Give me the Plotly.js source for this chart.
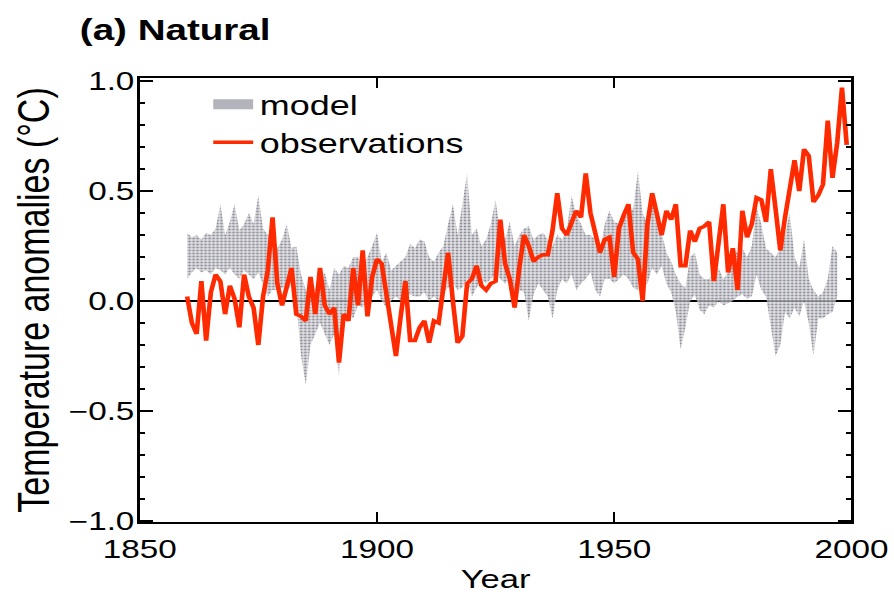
<!DOCTYPE html>
<html>
<head>
<meta charset="utf-8">
<script src="https://cdn.plot.ly/plotly-3.0.1.min.js"></script>
<style>
  html, body { margin: 0; padding: 0; background: #ffffff; overflow: hidden; }
  #wrap { width: 894px; height: 604px; overflow: hidden; }
  #chart { width: 672px; height: 604px; transform: scaleX(1.3304); transform-origin: 0 0; }
</style>
</head>
<body>
<div id="wrap"><div id="chart"></div></div>
<script>
// ---- data ----
const obsStartYear = 1860;
const observations = [
  0.02,-0.10,-0.15, 0.09,-0.18, 0.04, 0.12, 0.09,-0.06, 0.07,   // 1860s
  0.01,-0.12, 0.12, 0.02,-0.03,-0.20, 0.02, 0.14, 0.38, 0.08,   // 1870s
 -0.02, 0.07, 0.15,-0.06,-0.07,-0.09, 0.11,-0.06, 0.15,-0.02,   // 1880s
 -0.06,-0.03,-0.28,-0.06,-0.09, 0.15,-0.02, 0.23,-0.07, 0.11,   // 1890s
  0.19, 0.17, 0.02,-0.10,-0.25,-0.07, 0.09,-0.18,-0.18,-0.12,   // 1900s
 -0.09,-0.19,-0.09,-0.10, 0.08, 0.22, 0.00,-0.19,-0.16, 0.08,   // 1910s
  0.10, 0.16, 0.07, 0.05, 0.08, 0.09, 0.37, 0.17, 0.10,-0.03,   // 1920s
  0.15, 0.30, 0.25, 0.18, 0.20, 0.21, 0.21, 0.32, 0.49, 0.33,   // 1930s
  0.30, 0.36, 0.41, 0.38, 0.58, 0.40, 0.30, 0.22, 0.28, 0.29,   // 1940s
  0.11, 0.33, 0.39, 0.44, 0.22, 0.19, 0.00, 0.35, 0.49, 0.40,   // 1950s
  0.30, 0.41, 0.37, 0.44, 0.16, 0.16, 0.32, 0.27, 0.33, 0.34,   // 1960s
  0.36, 0.09, 0.27, 0.44, 0.13, 0.24, 0.05, 0.41, 0.29, 0.35,   // 1970s
  0.47, 0.46, 0.36, 0.60, 0.42, 0.23, 0.38, 0.52, 0.64, 0.50,   // 1980s
  0.69, 0.66, 0.45, 0.48, 0.53, 0.82, 0.56, 0.72, 0.97, 0.71    // 1990s
];

const modelStartYear = 1860;
const modelUpper = [
  0.31,0.29,0.30,0.28,0.31,0.30,0.33,0.44,0.30,0.36,
  0.44,0.32,0.35,0.40,0.35,0.48,0.33,0.30,0.30,0.24,
  0.28,0.35,0.24,0.25,0.12,0.05,0.02,0.06,0.10,0.13,
  0.05,0.15,0.12,0.16,0.15,0.20,0.20,0.16,0.20,0.25,
  0.31,0.18,0.22,0.14,0.16,0.18,0.20,0.26,0.24,0.28,
  0.27,0.20,0.18,0.22,0.25,0.35,0.44,0.30,0.45,0.58,
  0.30,0.33,0.25,0.28,0.35,0.46,0.30,0.28,0.36,0.25,
  0.30,0.33,0.34,0.28,0.30,0.31,0.28,0.25,0.30,0.28,
  0.32,0.48,0.39,0.35,0.30,0.30,0.28,0.22,0.35,0.41,
  0.36,0.35,0.38,0.40,0.42,0.59,0.40,0.35,0.50,0.40,
  0.31,0.22,0.18,0.12,0.08,0.06,0.20,0.22,0.12,0.10,
  0.10,0.14,0.15,0.10,0.13,0.24,0.22,0.24,0.20,0.25,
  0.43,0.35,0.24,0.22,0.20,0.24,0.30,0.40,0.20,0.15,
  0.28,0.10,0.05,0.02,0.04,0.10,0.25,0.22
];
const modelLower = [
  0.10,0.13,0.15,0.13,0.14,0.12,0.15,0.14,0.12,0.15,
  0.12,0.10,0.14,0.12,0.10,0.13,0.08,0.02,0.05,0.05,
  0.06,0.04,0.08,0.00,-0.25,-0.38,-0.20,-0.15,-0.10,-0.15,
  -0.20,-0.15,-0.34,-0.10,-0.05,-0.08,-0.02,-0.03,0.00,0.02,
  0.05,0.00,-0.03,0.00,0.02,0.00,0.02,0.03,0.02,0.02,
  0.04,0.00,0.02,0.00,0.04,0.06,0.08,0.05,0.06,0.10,
  0.02,0.06,0.10,0.08,0.10,0.12,0.10,0.08,0.10,-0.05,
  0.05,0.04,-0.09,0.03,0.08,0.05,0.02,-0.08,0.05,0.10,
  0.08,0.12,0.05,0.08,0.10,0.13,0.05,0.02,0.10,0.10,
  0.08,0.10,0.12,0.10,0.06,0.05,0.07,0.08,0.15,0.12,
  0.16,0.08,0.04,-0.05,-0.22,-0.12,0.00,0.03,-0.04,-0.06,
  -0.02,-0.03,0.00,-0.02,-0.01,0.00,0.02,0.03,0.01,0.02,
  0.12,0.05,0.02,-0.12,-0.25,-0.20,-0.05,-0.08,-0.03,-0.07,
  0.00,-0.10,-0.25,-0.08,-0.08,-0.06,-0.05,0.02
];

const xTickVals = [1850, 1900, 1950, 2000];
const xTickText = ['1850', '1900', '1950', '2000'];
const yTickVals = [-1.0, -0.5, 0.0, 0.5, 1.0];
const yTickText = ['\u22121.0', '\u22120.5', '0.0', '0.5', '1.0'];

// ---- build ----
const obsYears = observations.map((_, i) => obsStartYear + i);
const modelYears = modelUpper.map((_, i) => modelStartYear + i);

const FONT = 'Liberation Sans, Arial, Helvetica, sans-serif';
const RED = '#ff2a00';
const Y_RANGE = [-1.005, 1.014];

const traces = [
  {
    x: modelYears, y: modelLower, type: 'scatter', mode: 'lines',
    line: { width: 0, color: 'rgba(0,0,0,0)' }, showlegend: false, hoverinfo: 'skip'
  },
  {
    x: modelYears, y: modelUpper, type: 'scatter', mode: 'lines',
    line: { width: 0, color: 'rgba(0,0,0,0)' }, fill: 'tonexty',
    fillcolor: 'rgba(200,200,208,0.7)',
    fillpattern: { shape: '.', fgcolor: '#6c6c78', fgopacity: 0.7, bgcolor: 'rgba(212,212,220,0.72)', size: 3, solidity: 0.4 },
    showlegend: false, hoverinfo: 'skip'
  },
  {
    x: [null], y: [null], type: 'scatter', mode: 'lines', name: 'model',
    line: { width: 10, color: '#b3b3bc' }
  },
  {
    x: obsYears, y: observations, type: 'scatter', mode: 'lines', name: 'observations',
    line: { width: 3.5, color: RED }
  }
];

const layout = {
  width: 672, height: 604,
  margin: { l: 105, r: 32, t: 78, b: 82 },
  paper_bgcolor: '#ffffff', plot_bgcolor: '#ffffff',
  font: { family: FONT, color: '#000000', size: 25 },
  title: {
    text: '<b>(a) Natural</b>', font: { family: FONT, size: 29, color: '#000' },
    xref: 'container', x: 60 / 672, xanchor: 'left',
    yref: 'container', y: 1 - 30 / 604, yanchor: 'middle'
  },
  showlegend: true,
  legend: {
    traceorder: 'normal',
    x: 0.094, xanchor: 'left', y: 0.995, yanchor: 'top',
    bgcolor: 'rgba(0,0,0,0)', borderwidth: 0,
    font: { family: FONT, size: 27, color: '#000' }
  },
  xaxis: {
    range: [1850, 2000], tickmode: 'array', tickvals: xTickVals, ticktext: xTickText,
    ticks: 'inside', ticklen: 10, tickwidth: 1.3, tickcolor: '#000',
    showline: true, linewidth: 2, linecolor: '#000', mirror: 'ticks',
    showgrid: false, zeroline: false,
    tickfont: { family: FONT, size: 25, color: '#000' },
    ticklabelstandoff: 4,
    title: { text: 'Year', font: { family: FONT, size: 26, color: '#000' }, standoff: 8 }
  },
  yaxis: {
    range: Y_RANGE, tickmode: 'array', tickvals: yTickVals, ticktext: yTickText,
    ticks: 'inside', ticklen: 10, tickwidth: 1.3, tickcolor: '#000',
    minor: { dtick: 0.1, tick0: 0, ticks: 'inside', ticklen: 4, tickwidth: 1.2, tickcolor: '#000', showgrid: false },
    showline: true, linewidth: 2, linecolor: '#000', mirror: 'ticks',
    showgrid: false, zeroline: true, zerolinecolor: '#000', zerolinewidth: 2,
    tickfont: { family: FONT, size: 25, color: '#000' },
    ticklabelstandoff: -3,
    title: { text: '\u00A0\u00A0\u00A0Temperature anomalies (\u00B0C)', font: { family: FONT, size: 34, color: '#000' }, standoff: 4 }
  },
  yaxis2: {
    range: Y_RANGE, overlaying: 'y', side: 'right', anchor: 'x',
    tickmode: 'array', tickvals: yTickVals, showticklabels: false,
    ticks: 'inside', ticklen: 10, tickwidth: 1.3, tickcolor: '#000',
    minor: { dtick: 0.1, tick0: 0, ticks: 'inside', ticklen: 4, tickwidth: 1.2, tickcolor: '#000', showgrid: false },
    showline: false, showgrid: false, zeroline: false
  }
};

Plotly.newPlot('chart', traces, layout, { staticPlot: true, displayModeBar: false });
</script>
</body>
</html>
